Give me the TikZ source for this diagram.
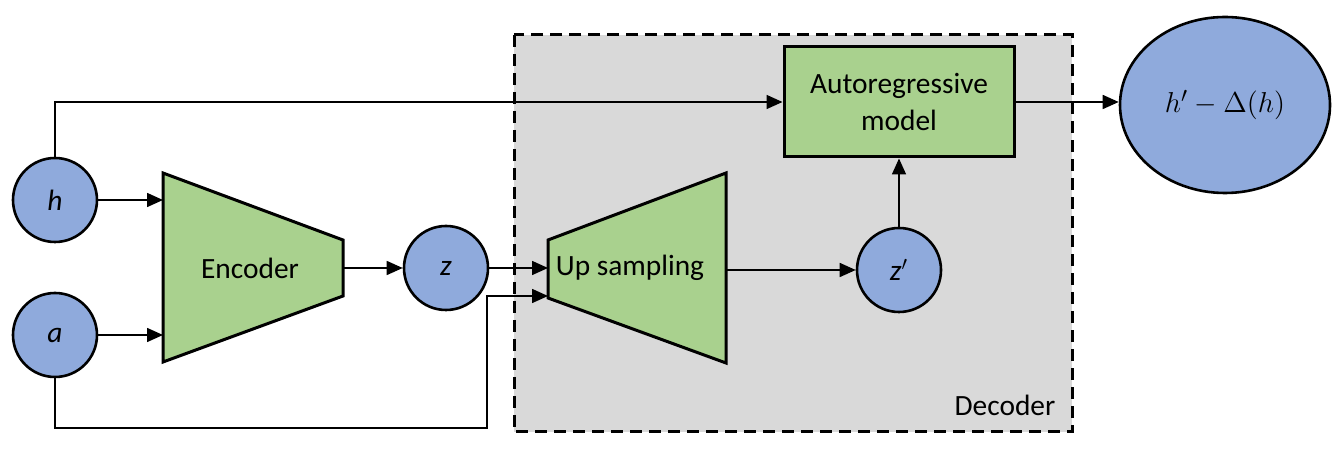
\documentclass[tikz,border=0pt]{standalone}
\usepackage{fontspec}
\setmainfont{Carlito}
\usetikzlibrary{arrows.meta,shapes.geometric}
\definecolor{varblue}{HTML}{8FAADC}
\definecolor{blockgreen}{HTML}{A9D18E}
\definecolor{decgray}{HTML}{D9D9D9}
\tikzset{var/.style={circle, draw=black, line width=1.3pt, fill=varblue, minimum size=42pt, inner sep=0pt, font=\fontsize{14.7}{17}\selectfont\itshape},
 block/.style={draw=black, line width=1.5pt, fill=blockgreen},
 lbl/.style={font=\fontsize{14.7}{18.5}\selectfont, align=center, inner sep=0pt},
 arr/.style={-{Triangle[length=8pt,width=7pt]}, line width=0.8pt}}

\begin{document}
\begin{tikzpicture}[x=0.5pt,y=-0.5pt]
   \useasboundingbox (0,0) rectangle (1338,458);
   % decoder frame
   \draw[fill=decgray, line width=1.5pt, dash pattern=on 6pt off 3.5pt]
    (514,35) rectangle (1072,432);
   \node[lbl] (declbl) at (1005,405) {Decoder};
   % inputs
   \node[var] (h) at (55,200) {h};
   \node[var] (a) at (55,335) {a};
   % encoder
   \draw[block] (163,173) -- (343,240) -- (343,296) -- (163,362) -- cycle;
   \node[lbl] (enc) at (250,268) {Encoder};
   \coordinate (enc-h) at (163,200);
   \coordinate (enc-a) at (163,335);
   \coordinate (enc-out) at (343,268);
   \node[var] (z) at (446,268) {z};
   % up sampling
   \draw[block] (548,240) -- (726,173) -- (726,363) -- (548,298) -- cycle;
   \node[lbl] (up) at (630,268) {Up sampling};
   \coordinate (up-z) at (548,268);
   \coordinate (up-a) at (548,296);
   \coordinate (up-out) at (726,270);
   \coordinate (abend) at (487,428);
   \node[var] (zp) at (899,270) {z$'$};
   \node[block, lbl, minimum width=115pt, minimum height=55pt] (ar) at (899,102) {Autoregressive\\model};
   \node[ellipse, draw=black, line width=1.3pt, fill=varblue, minimum width=105pt, minimum height=88pt,
    font=\fontsize{15}{17}\selectfont] (out) at (1225,105) {$h'-\Delta(h)$};
   % connectors
   \draw[arr] (h.north) |- (ar.west);
   \draw[arr] (h.east) -- (enc-h);
   \draw[arr] (a.east) -- (enc-a);
   \draw[arr] (enc-out) -- (z);
   \draw[arr] (z) -- (up-z);
   \draw[arr] (a.south) |- (abend) |- (up-a);
   \draw[arr] (up-out) -- (zp);
   \draw[arr] (zp) -- (ar);
   \draw[arr] (ar.east) -- (out.west |- ar.east);
  \end{tikzpicture}
\end{document}
